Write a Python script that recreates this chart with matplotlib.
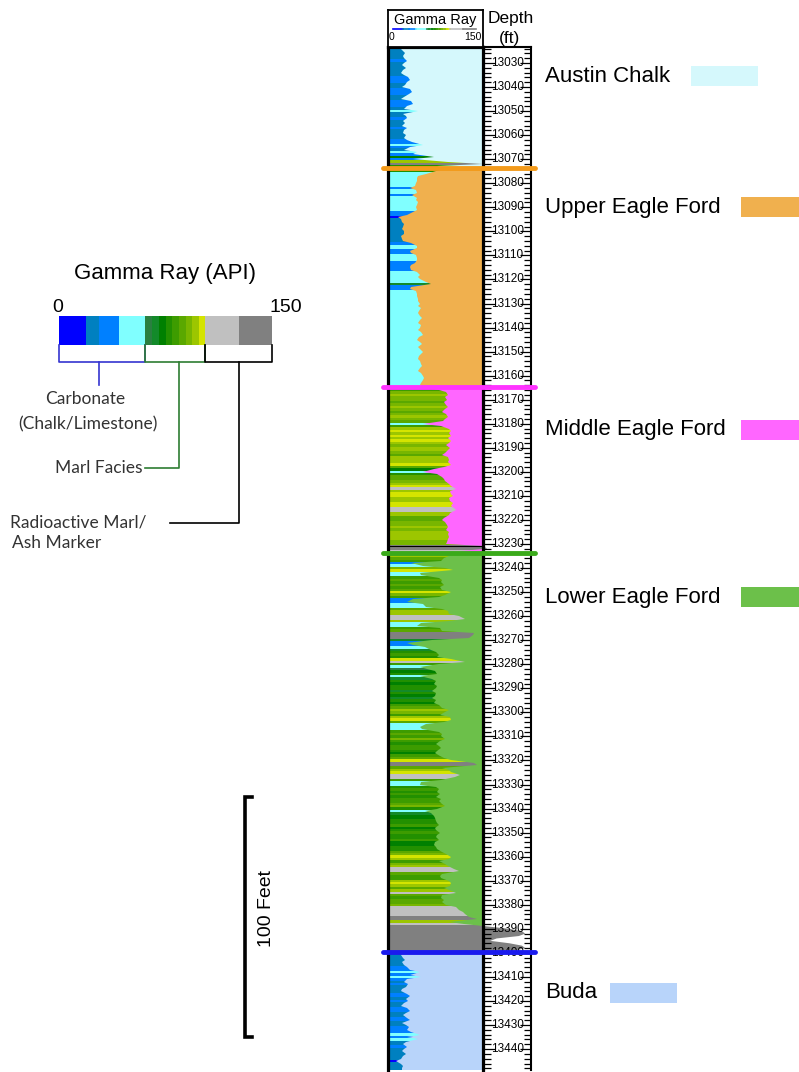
import numpy as np
import matplotlib.pyplot as plt
from matplotlib.colors import ListedColormap, BoundaryNorm
from matplotlib.patches import Rectangle

W, H = 799, 1072
ARIAL = 'Liberation Sans'
SOFT = 'Lato'

# gamma ray (API), one reading per foot from 13023 ft down to 13449 ft
gr_austin_chalk = [
    22, 20, 24, 27, 23, 25, 30, 26, 22, 28,    # 13023-13032
    24, 20, 26, 32, 35, 30, 27, 22, 34, 38,    # 13033-13042
    33, 26, 20, 36, 40, 30, 26, 48, 24, 28,    # 13043-13052
    30, 24, 27, 22, 30, 26, 23, 28, 25, 30,    # 13053-13062
    38, 56, 35, 26, 45, 40, 72, 40, 95, 150,   # 13063-13072
    78]                                        # 13073
gr_upper_eagle_ford = [
    90, 76, 60, 48, 46, 45, 44, 43, 34, 44,    # 13074-13083
    45, 38, 46, 44, 47, 45, 44, 46, 40, 30,    # 13084-13093
    16, 20, 22, 26, 24, 22, 26, 25, 20, 22,    # 13094-13103
    24, 36, 45, 46, 34, 36, 44, 46, 45, 42,    # 13104-13113
    36, 34, 36, 46, 50, 48, 50, 60, 68, 36,    # 13114-13123
    35, 44, 46, 45, 48, 47, 50, 48, 52, 49,    # 13124-13133
    47, 51, 54, 50, 48, 52, 50, 47, 52, 55,    # 13134-13143
    49, 46, 51, 53, 48, 50, 55, 52, 49, 47,    # 13144-13153
    50, 52, 54, 50, 48, 52, 55, 57, 56, 52,    # 13154-13163
    50]                                        # 13164
gr_middle_eagle_ford = [
    58, 80, 92, 94, 90, 93, 88, 92, 95, 90,    # 13165-13174
    86, 92, 94, 90, 87, 56, 84, 96, 100, 97,   # 13175-13184
    99, 95, 100, 96, 92, 98, 95, 90, 86, 94,   # 13185-13194
    97, 95, 99, 88, 72, 55, 78, 86, 88, 90,    # 13195-13204
    96, 100, 108, 98, 100, 102, 96, 98, 102, 100,  # 13205-13214
    104, 108, 98, 96, 88, 86, 90, 93, 95, 92,  # 13215-13224
    96, 94, 96, 95, 93, 92, 150, 155, 115]     # 13225-13233
gr_lower_eagle_ford = [
    100, 96, 88, 84, 36, 56, 90, 102, 50, 52,  # 13234-13243
    80, 86, 84, 88, 82, 86, 100, 90, 80, 40,   # 13244-13253
    30, 56, 60, 85, 94, 96, 112, 122, 96, 52,  # 13254-13263
    45, 82, 86, 136, 134, 128, 70, 30, 40, 58,  # 13264-13273
    68, 76, 80, 78, 100, 122, 80, 50, 62, 74,  # 13274-13283
    78, 50, 70, 76, 72, 78, 75, 70, 76, 74,    # 13284-13293
    70, 76, 72, 80, 86, 96, 90, 82, 98, 100,   # 13294-13303
    88, 60, 50, 54, 80, 86, 84, 90, 82, 76,    # 13304-13313
    80, 84, 78, 74, 82, 88, 100, 135, 140, 85,  # 13314-13323
    96, 100, 114, 106, 84, 52, 50, 76, 80, 78,  # 13324-13333
    82, 76, 84, 80, 86, 90, 78, 58, 68, 72,    # 13334-13343
    74, 76, 78, 80, 74, 76, 82, 78, 76, 80,    # 13344-13353
    74, 72, 76, 78, 86, 92, 100, 96, 80, 90,   # 13354-13363
    94, 104, 112, 86, 82, 84, 96, 100, 98, 88,  # 13364-13373
    96, 108, 86, 84, 88, 86, 92, 108, 112, 118,  # 13374-13383
    122, 128, 140, 96, 120, 155, 190, 210, 215, 205,  # 13384-13393
    170, 160, 190, 210, 215, 200]              # 13394-13399
gr_buda = [
    24, 20, 24, 27, 22, 26, 30, 34, 50, 34,    # 13400-13409
    52, 30, 26, 32, 28, 22, 20, 30, 34, 28,    # 13410-13419
    32, 26, 20, 30, 34, 28, 24, 30, 34, 22,    # 13420-13429
    28, 33, 30, 36, 50, 30, 48, 28, 24, 30,    # 13430-13439
    26, 22, 28, 24, 20, 12, 20, 24, 22, 22]    # 13440-13449

depth = np.arange(13023, 13450)
gr = np.array(gr_austin_chalk + gr_upper_eagle_ford + gr_middle_eagle_ford
              + gr_lower_eagle_ford + gr_buda, dtype=float)

# colour classes of the gamma ray fill
gr_edges = [0, 18.75, 28.1, 42.2, 60.9, 65.6, 70.3, 75.0, 79.7, 84.4,
            89.1, 93.8, 98.4, 103.1, 126.6, 150]
gr_colors = ['#0000ff', '#0080c0', '#0080ff', '#80ffff',
             '#2a7f40', '#138a2a', '#008000', '#229000', '#3d9c00',
             '#5aa800', '#78b600', '#9cc600', '#d4e400',
             '#c0c0c0', '#808080']

formations = ['Austin Chalk', 'Upper Eagle Ford', 'Middle Eagle Ford',
              'Lower Eagle Ford', 'Buda']
formation_tops = [13023.35, 13073.6, 13164.9, 13233.7, 13399.5]
formation_colors = ['#d5f8fc', '#f0b04e', '#ff66ff', '#6cc04a', '#b8d4fa']
top_line_colors = [None, '#f39a1a', '#ff33ff', '#3aaa1a', '#1a1aee']

depth_top, depth_base = 13023.35, 13448.7

fig = plt.figure(figsize=(W / 100, H / 100), dpi=100)


def px_axes(x0, y0, x1, y1, **kw):
    return fig.add_axes([x0 / W, 1 - y1 / H, (x1 - x0) / W, (y1 - y0) / H], **kw)


# overlay in pixel units for the formation legend on the right
ov = px_axes(0, 0, W, H, zorder=0)
ov.set_xlim(0, W)
ov.set_ylim(H, 0)
ov.axis('off')
label_y = [76, 207, 430, 597, 993]
swatch_x = [(691, 758), (741, 800), (741, 800), (741, 800), (610, 677)]
for name, c, y, (sx0, sx1) in zip(formations, formation_colors, label_y, swatch_x):
    ov.text(545, y, name, fontsize=16, family=ARIAL, va='center', ha='left')
    ov.add_patch(Rectangle((sx0, y - 10), sx1 - sx0, 20, color=c, lw=0))
ov.text(510.5, 18, 'Depth', fontsize=12.5, family=ARIAL, ha='center', va='center')
ov.text(510, 38, '(ft)', fontsize=12.5, family=ARIAL, ha='center', va='center')

# depth track
dax = px_axes(484, 47, 531, 1070, zorder=2)
wrap = 150 + 47 * 150 / 95
dax.set_xlim(150, wrap)
dax.set_ylim(depth_base, depth_top)
dax.fill_betweenx(depth, 150, gr, where=gr > 150, interpolate=True,
                  color='#808080', lw=0)
dax.set_yticks(np.arange(13030, 13441, 10))
dax.set_yticks(np.arange(13024, 13449, 2), minor=True)
dax.tick_params(axis='y', which='both', direction='in', left=True, right=True,
                labelleft=False, width=0.9)
dax.tick_params(axis='y', which='major', length=8)
dax.tick_params(axis='y', which='minor', length=5)
dax.set_xticks([])
for d in range(13030, 13441, 10):
    dax.text((150 + wrap) / 2, d, str(d), ha='center', va='center',
             fontsize=8.5, family=ARIAL)
for s in ['left', 'right', 'top']:
    dax.spines[s].set_linewidth(1.5)
dax.spines['bottom'].set_visible(False)

# gamma ray track
gax = px_axes(388, 47, 483, 1070, zorder=3)
gax.set_xlim(0, 150)
gax.set_ylim(depth_base, depth_top)
bases = formation_tops[1:] + [depth_base]
for top, base, c in zip(formation_tops, bases, formation_colors):
    gax.fill_betweenx([top, base], 0, 150, color=c, lw=0, zorder=1)
cmap = ListedColormap(gr_colors)
norm = BoundaryNorm(gr_edges, cmap.N, clip=True)
cells = np.concatenate([[depth[0] - 0.5], depth + 0.5])
mesh = gax.pcolormesh([0, 150], cells, gr[:, None], cmap=cmap, norm=norm, zorder=2)
outline = gax.fill_betweenx(depth, 0, np.minimum(gr, 150), color='none', lw=0)
mesh.set_clip_path(outline.get_paths()[0], gax.transData)
gax.axhline(13231, color='k', lw=0.8, zorder=4)
for top, c in zip(formation_tops, top_line_colors):
    if c:
        gax.plot([-8, 232], [top, top], color=c, lw=3.5, solid_capstyle='round',
                 clip_on=False, zorder=5)
gax.set_xticks([])
gax.set_yticks([])
for s in ['left', 'right', 'top']:
    gax.spines[s].set_linewidth(2.3)
gax.spines['bottom'].set_visible(False)

# track header
hax = px_axes(388, 10, 483, 47, zorder=3)
hax.set_xlim(0, 150)
hax.set_ylim(47, 10)
hax.text(75, 20, 'Gamma Ray', fontsize=10.5, family=ARIAL, ha='center', va='center')
for a, b, c in zip(gr_edges[:-1], gr_edges[1:], gr_colors):
    hax.plot([8 + a * 131 / 150, 8 + b * 131 / 150], [28.5, 28.5], color=c, lw=1.2)
hax.text(1.5, 37.5, '0', fontsize=7.5, family=ARIAL, ha='left', va='center')
hax.text(147, 37.5, '150', fontsize=7.5, family=ARIAL, ha='right', va='center')
hax.set_xticks([])
hax.set_yticks([])
for s in hax.spines.values():
    s.set_linewidth(1.3)

# colour key on the left, x in API units
lg = px_axes(0, 255, 320, 560, zorder=1)
lg.set_xlim(-59 / 1.42, (320 - 59) / 1.42)
lg.set_ylim(560, 255)
lg.axis('off')
lg.text(74.6, 273, 'Gamma Ray (API)', fontsize=16, family=ARIAL, ha='center', va='center')
lg.text(-0.7, 308, '0', fontsize=14, family=ARIAL, ha='center', va='center')
lg.text(159.9, 308, '150', fontsize=14, family=ARIAL, ha='center', va='center')
for a, b, c in zip(gr_edges[:-1], gr_edges[1:], gr_colors):
    lg.bar(a, 29, width=b - a, bottom=316, align='edge', color=c, lw=0)
brackets = [(0, 60.9, '#3535d0'), (60.9, 103.1, '#2e7d32'), (103.1, 150, 'black')]
for a, b, c in brackets:
    lg.plot([a, a, b, b], [345, 362, 362, 345], color=c, lw=1.2)
text_c = '#333333'
lg.plot([28.1, 28.1], [362, 385], color='#3535d0', lw=1.2)
lg.plot([84.4, 84.4, 60.9], [362, 468, 468], color='#2e7d32', lw=1.2)
lg.plot([126.6, 126.6, 78.2], [362, 523, 523], color='black', lw=1.2)
lg.text(18.3, 399, 'Carbonate', fontsize=12.5, family=SOFT, color=text_c,
        ha='center', va='center')
lg.text(20.4, 424, '(Chalk/Limestone)', fontsize=12.5, family=SOFT, color=text_c,
        ha='center', va='center')
lg.text(58.5, 468, 'Marl Facies', fontsize=12.5, family=SOFT, color=text_c,
        ha='right', va='center')
lg.text(-34.5, 523, 'Radioactive Marl/', fontsize=12.5, family=SOFT, color=text_c,
        ha='left', va='center')
lg.text(-33.1, 543, 'Ash Marker', fontsize=12.5, family=SOFT, color=text_c,
        ha='left', va='center')

# 100 ft scale bar, same depth scale as the log
sax = px_axes(200, 47, 300, 1070, zorder=1)
sax.set_xlim(200, 300)
sax.set_ylim(depth_base, depth_top)
sax.axis('off')
sax.plot([252, 245, 245, 252], [13335, 13335, 13435, 13435], color='k', lw=2.6,
         solid_joinstyle='miter')
sax.text(266.7, 13381.5, '100 Feet', rotation=90, fontsize=14, family=ARIAL,
         ha='center', va='center')

fig.savefig('out.png', dpi=100)
